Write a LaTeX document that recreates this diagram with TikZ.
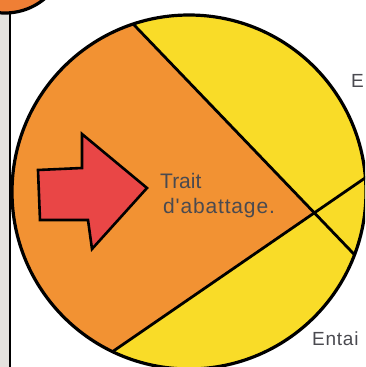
\documentclass[tikz,border=0pt]{standalone}
\usepackage{fontspec}
\setmainfont{Liberation Sans}
\newfontfamily\labfont[LetterSpace=4]{Liberation Sans}
\usetikzlibrary{calc}
\definecolor{cutorange}{HTML}{F29233}
\definecolor{woodyellow}{HTML}{F9DC28}
\definecolor{arrowred}{HTML}{E94646}
\definecolor{toporange}{HTML}{EF7F35}
\definecolor{labgray}{HTML}{4A4A50}
\definecolor{stripgray}{HTML}{E4E2DE}
\tikzset{
  outline/.style={draw=black, line width=3.2pt},
  cutline/.style={draw=black, line width=2.8pt},
  lab/.style={text=labgray, inner sep=0pt, font=\fontsize{21}{25}\selectfont},
  sidelab/.style={text=labgray, inner sep=0pt, font=\labfont\fontsize{19}{23}\selectfont}
}
\begin{document}
\begin{tikzpicture}[x=1pt,y=-1pt]
\useasboundingbox (0,0) rectangle (365,367);
\clip (0,0) rectangle (365,367);
\fill[white] (0,0) rectangle (365,367);
\fill[stripgray] (0,0) rectangle (9,367);
% top-left disc and post
\coordinate (D) at (5,-49);
\fill[toporange, outline] (D) circle (62);
\coordinate (postTop) at (10,12);
\coordinate (postBot) at (10,370);
\draw[outline, line width=2.8pt] (postTop) -- (postBot);
% trunk section
\coordinate (C) at (189,192);
\coordinate (L1a) at (94.4,-16.4);
\coordinate (L1b) at (392.6,294.4);
\coordinate (L2a) at (61.4,386.8);
\coordinate (L2b) at (415.6,143.2);
\coordinate (P) at (intersection of L1a--L1b and L2a--L2b);
\begin{scope}
  \clip (C) circle (177);
  \fill[woodyellow] (C) circle (177);
  \fill[cutorange] (L1a) -- (P) -- (L2a) -- (-100,400) -- (-100,-100) -- cycle;
  \draw[cutline] (L1a) -- (L1b);
  \draw[cutline] (L2a) -- (L2b);
\end{scope}
\draw[outline] (C) circle (177);
% arrow
\fill[arrowred, draw=black, line width=2.6pt, line join=miter]
  (38,170) -- (82,168) -- (82,134) -- (147,188) -- (92,249) -- (88,220) -- (40,220) -- cycle;
% labels
\node[lab, anchor=base west, align=left] (trait) at (160,188) {Trait};
\node[lab, anchor=base west] (abat) at (163,213) {\labfont d'abattage.};
\node[sidelab, anchor=base west] (e) at (351,87) {E};
\node[sidelab, anchor=base west] (entai) at (312,345) {Entai};
\end{tikzpicture}
\end{document}
